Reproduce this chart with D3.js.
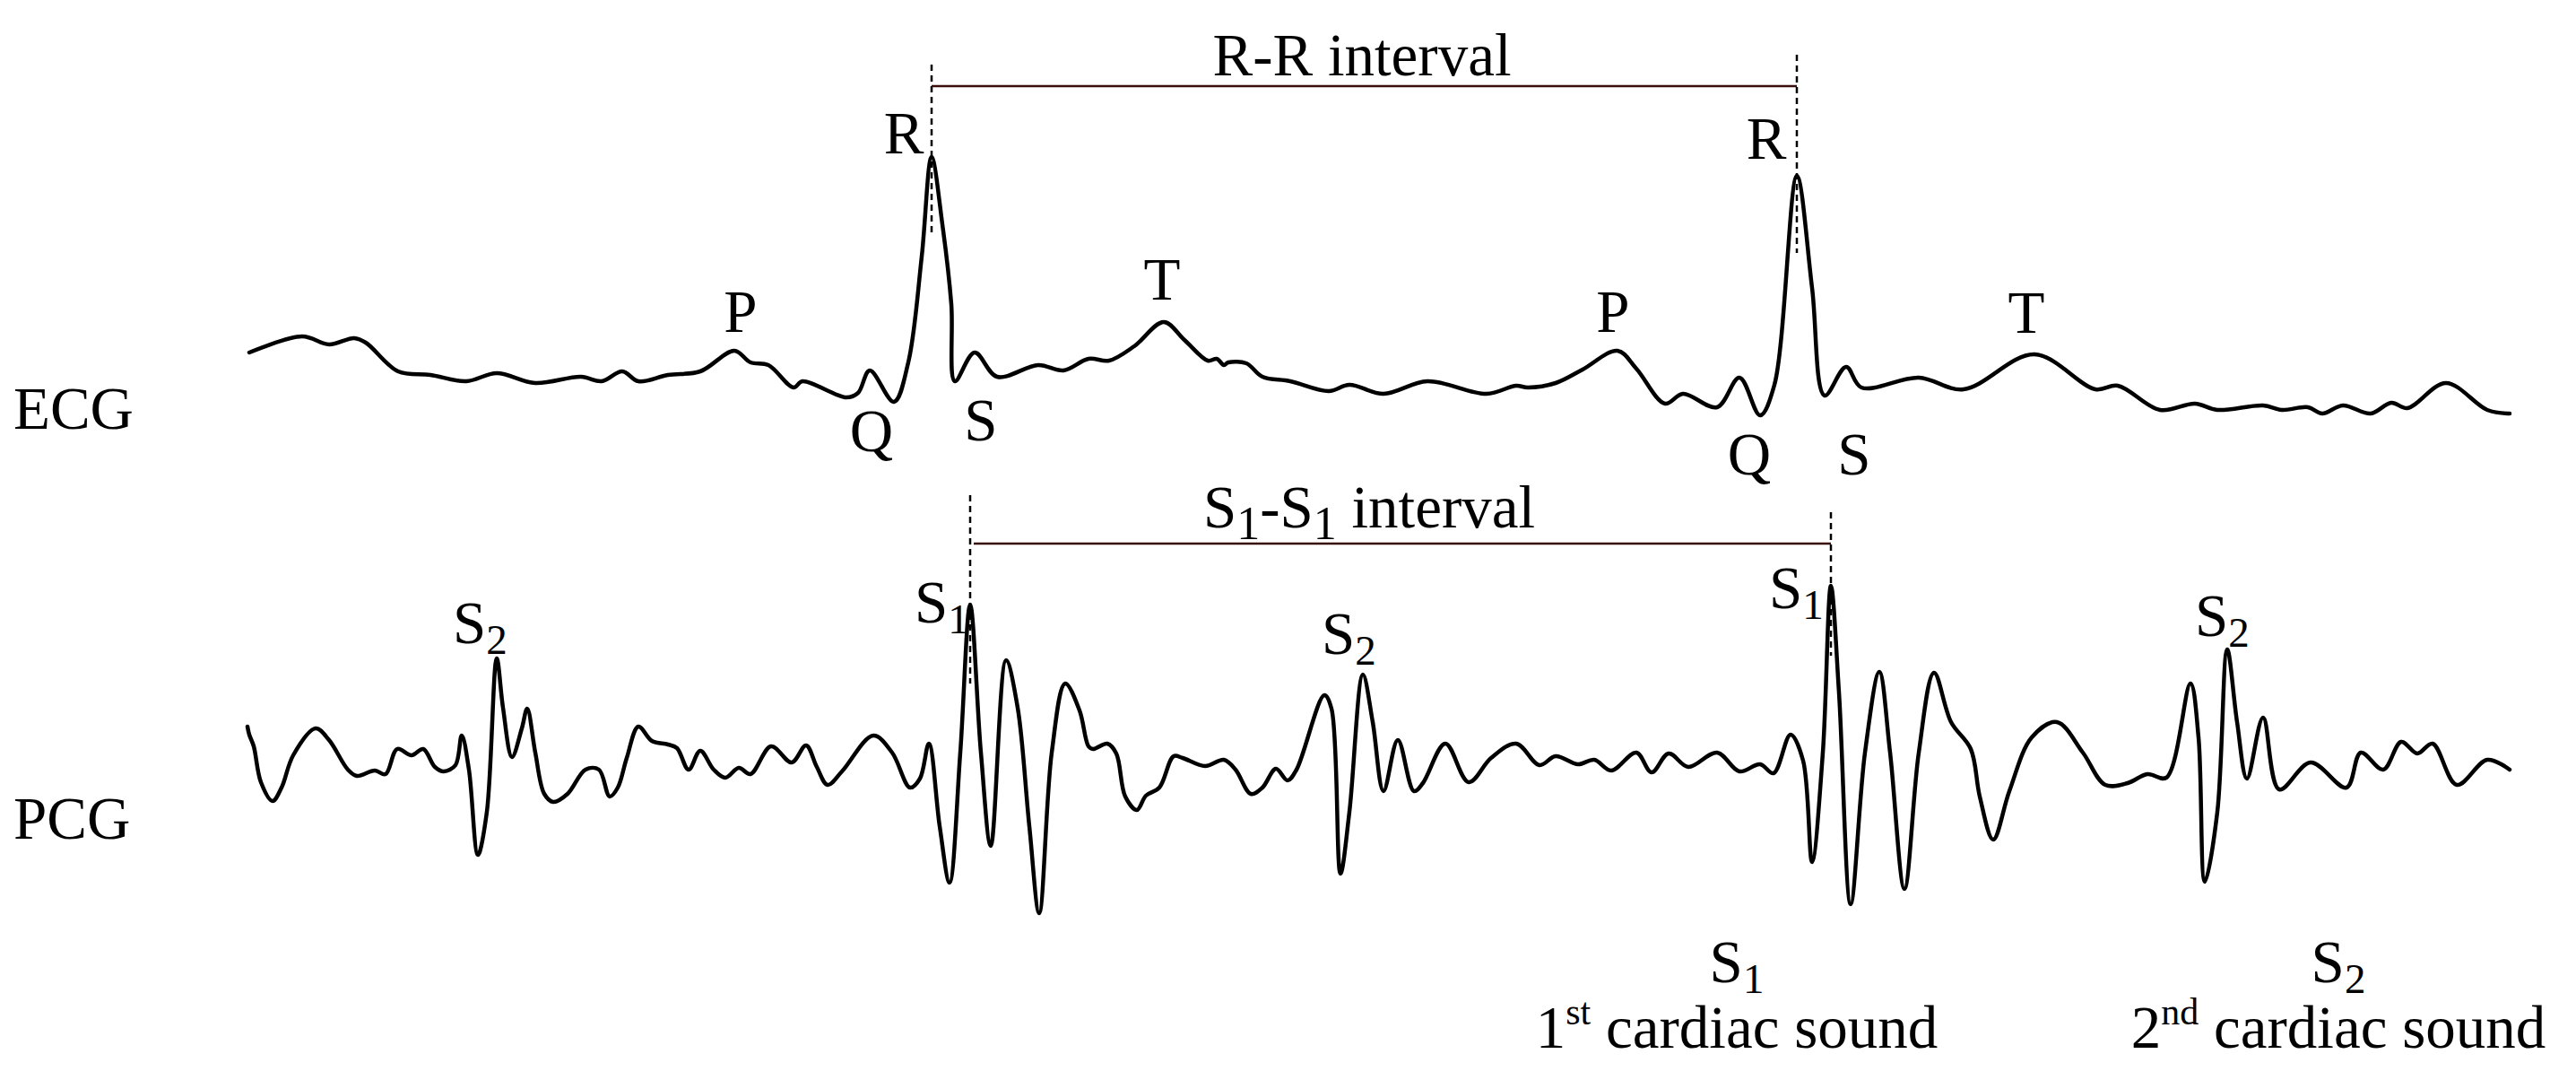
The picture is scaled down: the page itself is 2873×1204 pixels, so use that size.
<!DOCTYPE html>
<html>
<head>
<meta charset="utf-8">
<script src="https://cdn.jsdelivr.net/npm/d3@7"></script>
<style>
body { margin: 0; background: #fff; }
text { font-family: "Liberation Serif", "Times New Roman", serif; fill: #000; }
</style>
</head>
<body>
<script>
var width = 2873, height = 1204;
var fontSize = 67, subSize = 47;

// ECG trace, time in samples, amplitude in arbitrary units
const ecgTime = [3,62,92,120,133,169,205,245,279,322,373,396,419,437,470,506,544,562,582,610,620,669,682,695,722,738,753,764,776,786,790,812,837,883,911,939,962,990,1023,1046,1072,1082,1090,1095,1115,1133,1164,1207,1230,1268,1317,1383,1416,1429,1460,1490,1529,1550,1582,1602,1640,1665,1688,1704,1729,1746,1760,1784,1801,1865,1915,1994,2062,2087,2134,2173,2198,2249,2270,2299,2315,2338,2369,2392,2410,2453,2499,2524];
const ecgAmp = [0.37,0.55,0.46,0.53,0.48,0.16,0.12,0.05,0.14,0.03,0.10,0.05,0.16,0.05,0.12,0.16,0.39,0.26,0.23,-0.02,0.05,-0.13,-0.08,0.17,-0.18,0.26,1.44,2.55,1.80,0.91,0.05,0.37,0.10,0.23,0.17,0.30,0.28,0.44,0.71,0.51,0.28,0.30,0.23,0.26,0.25,0.10,0.05,-0.06,0.01,-0.09,0.05,-0.09,0.00,-0.02,0.03,0.18,0.39,0.19,-0.20,-0.09,-0.24,0.09,-0.33,0.01,2.34,1.09,-0.11,0.21,-0.02,0.09,-0.04,0.35,-0.04,0.00,-0.27,-0.20,-0.27,-0.22,-0.27,-0.24,-0.31,-0.22,-0.31,-0.19,-0.25,0.03,-0.27,-0.31];

// PCG trace
const pcgTime = [1,3,8,16,29,39,52,77,92,113,123,143,155,168,184,197,210,220,233,240,248,258,268,279,286,296,307,313,322,332,342,358,378,393,405,414,424,437,452,470,480,493,506,521,534,549,562,585,608,624,636,648,664,699,720,740,751,761,773,784,796,807,819,830,847,860,873,884,898,913,929,939,944,960,970,980,993,1003,1018,1034,1044,1069,1090,1103,1120,1133,1148,1161,1171,1202,1210,1220,1230,1245,1256,1268,1284,1302,1312,1337,1363,1388,1416,1442,1460,1485,1503,1522,1550,1567,1586,1608,1640,1665,1688,1703,1722,1736,1746,1758,1767,1776,1789,1805,1821,1833,1849,1865,1882,1901,1923,1933,1948,1966,1991,2019,2048,2073,2098,2120,2141,2168,2177,2184,2198,2209,2220,2231,2249,2267,2302,2342,2358,2383,2403,2421,2438,2465,2499,2524];
const pcgAmp = [0.40,0.31,0.18,-0.22,-0.43,-0.28,0.08,0.38,0.25,-0.08,-0.15,-0.09,-0.13,0.15,0.08,0.15,-0.05,-0.10,-0.03,0.30,-0.08,-1.03,-0.55,1.16,0.61,0.06,0.38,0.60,0.11,-0.35,-0.44,-0.35,-0.08,-0.08,-0.38,-0.28,0.05,0.40,0.24,0.20,0.16,-0.08,0.13,-0.08,-0.17,-0.06,-0.13,0.18,0.00,0.19,-0.05,-0.25,-0.10,0.30,0.11,-0.28,-0.18,0.21,-0.71,-1.34,0.11,1.76,0.11,-0.93,1.14,0.61,-0.71,-1.68,0.11,0.88,0.58,0.18,0.15,0.21,0.10,-0.38,-0.53,-0.37,-0.28,0.07,0.05,-0.04,0.03,-0.08,-0.35,-0.28,-0.07,-0.20,-0.08,0.75,0.60,-1.24,-0.55,0.98,0.45,-0.32,0.25,-0.32,-0.23,0.21,-0.22,0.05,0.21,-0.03,0.07,-0.02,0.03,-0.09,0.11,-0.11,0.10,-0.05,0.11,-0.10,-0.02,-0.12,0.31,0.02,-1.11,0.11,1.97,0.78,-1.58,0.11,1.01,0.11,-1.41,0.11,1.00,0.45,0.15,-0.38,-0.86,-0.32,0.28,0.45,0.11,-0.25,-0.23,-0.13,-0.17,0.88,0.28,-1.33,-0.55,1.26,0.45,-0.18,0.50,-0.30,0.00,-0.28,0.11,-0.08,0.23,0.10,0.21,-0.25,0.03,-0.08];

// wave labels on the ECG
const ecgLabels = ["P","Q","R","S","T","P","Q","R","S","T"];
const ecgLabelTime = [551,697,733,819,1021,1524,1676,1695,1793,1985];
const ecgLabelAmp = [0.60,-0.73,2.59,-0.61,0.96,0.60,-0.99,2.53,-0.99,0.59];

// heart sound labels on the PCG
const pcgLabelSub = ["2","1","2","1","2"];
const pcgLabelTime = [230,745,1199,1698,2173];
const pcgLabelAmp = [1.33,1.56,1.21,1.72,1.41];

// interval markers
const rPeaks = [764, 1729];
const rMarkTop = [3.58, 3.69];
const rMarkBottom = [1.67, 1.48];
const rrLevel = 3.34;
const s1Peaks = [807, 1767];
const s1MarkTop = [2.98, 2.79];
const s1MarkBottom = [0.88, 1.19];
const s1s1Level = 2.44;

var svg = d3.select("body").append("svg")
    .attr("width", width)
    .attr("height", height);

var x = d3.scaleLinear().domain([0, 2525]).range([275, 2800]);
var yEcg = d3.scaleLinear().domain([-1, 3]).range([530, 130]);
var yPcg = d3.scaleLinear().domain([-2, 2]).range([1050, 650]);

function trace(time, amp, y) {
    return d3.line()
        .x(i => x(time[i]))
        .y(i => y(amp[i]))
        .curve(d3.curveCatmullRom.alpha(0.5))(d3.range(time.length));
}

svg.append("path").attr("d", trace(ecgTime, ecgAmp, yEcg))
    .attr("fill", "none").attr("stroke", "#000").attr("stroke-width", 4.5)
    .attr("stroke-linejoin", "round").attr("stroke-linecap", "round");
svg.append("path").attr("d", trace(pcgTime, pcgAmp, yPcg))
    .attr("fill", "none").attr("stroke", "#000").attr("stroke-width", 4.5)
    .attr("stroke-linejoin", "round").attr("stroke-linecap", "round");

// dashed markers + interval lines
rPeaks.forEach((t, i) => {
    svg.append("line").attr("x1", x(t)).attr("x2", x(t))
        .attr("y1", yEcg(rMarkTop[i])).attr("y2", yEcg(rMarkBottom[i]))
        .attr("stroke", "#000").attr("stroke-width", 2.5).attr("stroke-dasharray", "7,5");
});
svg.append("line").attr("x1", x(rPeaks[0])).attr("x2", x(rPeaks[1]))
    .attr("y1", yEcg(rrLevel)).attr("y2", yEcg(rrLevel))
    .attr("stroke", "#3a0d0d").attr("stroke-width", 2.5);

s1Peaks.forEach((t, i) => {
    svg.append("line").attr("x1", x(t)).attr("x2", x(t))
        .attr("y1", yPcg(s1MarkTop[i])).attr("y2", yPcg(s1MarkBottom[i]))
        .attr("stroke", "#000").attr("stroke-width", 2.5).attr("stroke-dasharray", "7,5");
});
svg.append("line").attr("x1", x(s1Peaks[0]) + 4).attr("x2", x(s1Peaks[1]))
    .attr("y1", yPcg(s1s1Level)).attr("y2", yPcg(s1s1Level))
    .attr("stroke", "#3a0d0d").attr("stroke-width", 2.5);

// interval titles
svg.append("text").attr("x", x(1244)).attr("y", yEcg(3.46))
    .attr("text-anchor", "middle").attr("font-size", fontSize).text("R-R interval");

var s1s1 = svg.append("text").attr("x", x(1252)).attr("y", yPcg(2.62))
    .attr("text-anchor", "middle").attr("font-size", fontSize);
s1s1.append("tspan").text("S");
s1s1.append("tspan").attr("font-size", 52).attr("dy", 13).text("1");
s1s1.append("tspan").attr("dy", -13).text("-S");
s1s1.append("tspan").attr("font-size", 52).attr("dy", 13).text("1");
s1s1.append("tspan").attr("dy", -13).text(" interval");

// wave letters
ecgLabels.forEach((l, i) => {
    svg.append("text").attr("x", x(ecgLabelTime[i])).attr("y", yEcg(ecgLabelAmp[i]))
        .attr("text-anchor", "middle").attr("font-size", fontSize).text(l);
});

pcgLabelSub.forEach((s, i) => {
    var t = svg.append("text").attr("x", x(pcgLabelTime[i])).attr("y", yPcg(pcgLabelAmp[i]))
        .attr("font-size", fontSize);
    t.append("tspan").text("S");
    t.append("tspan").attr("font-size", subSize).attr("dy", 12).text(s);
});

// row titles
svg.append("text").attr("x", 15).attr("y", 478).attr("font-size", fontSize).text("ECG");
svg.append("text").attr("x", 15).attr("y", 935).attr("font-size", fontSize).text("PCG");

// legend for the two heart sounds
function soundLabel(cx, sub, ord, sup) {
    var a = svg.append("text").attr("x", cx).attr("y", 1095)
        .attr("text-anchor", "middle").attr("font-size", fontSize);
    a.append("tspan").text("S");
    a.append("tspan").attr("font-size", subSize).attr("dy", 12).text(sub);
    var b = svg.append("text").attr("x", cx).attr("y", 1168)
        .attr("text-anchor", "middle").attr("font-size", fontSize);
    b.append("tspan").text(ord);
    b.append("tspan").attr("font-size", 42).attr("dy", -26).text(sup);
    b.append("tspan").attr("dy", 26).text(" cardiac sound");
}
soundLabel(1937, "1", "1", "st");
soundLabel(2608, "2", "2", "nd");
</script>
</body>
</html>
